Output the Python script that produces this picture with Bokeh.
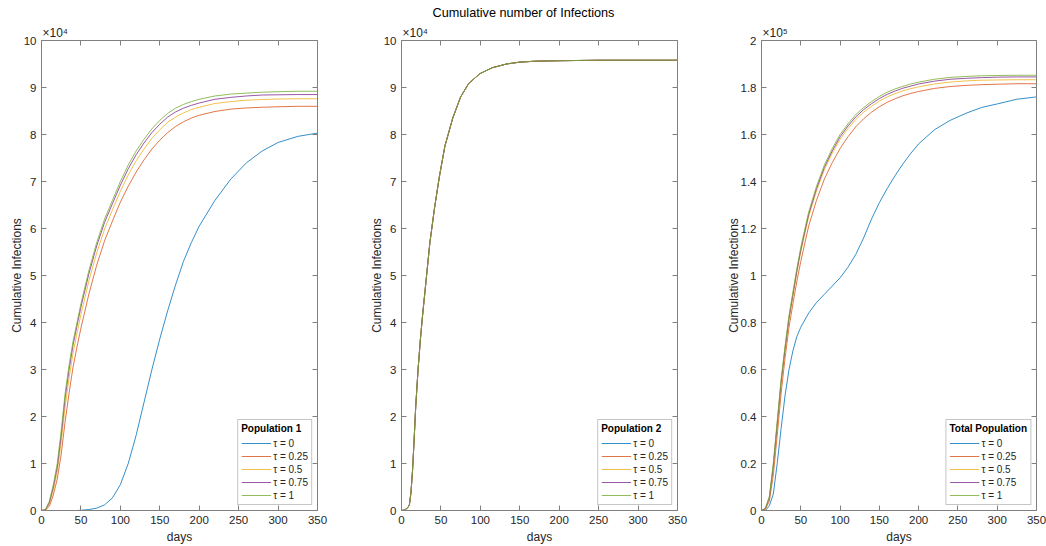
from bokeh.plotting import figure
from bokeh.models import (Range1d, FixedTicker, LinearAxis, Legend, LegendItem,
                          CustomJSTickFormatter, Title)
from bokeh.layouts import row
from bokeh.embed import file_html
from bokeh.resources import INLINE

# ---------------- data ----------------
TITLE = "Cumulative number of Infections"
TAU_LABELS = ["τ = 0", "τ = 0.25", "τ = 0.5", "τ = 0.75", "τ = 1"]
X_TICKS = [0, 50, 100, 150, 200, 250, 300, 350]
Y_TICKS_P12 = [0, 1, 2, 3, 4, 5, 6, 7, 8, 9, 10]
Y_TICKS_P3 = [0, 0.2, 0.4, 0.6, 0.8, 1.0, 1.2, 1.4, 1.6, 1.8, 2.0]

DAYS = [0, 5, 10, 15, 20, 25, 30, 35, 40, 45, 50, 60, 70, 80, 90, 100, 110, 120, 130,
        140, 150, 160, 170, 180, 190, 200, 220, 240, 260, 280, 300, 325, 350]

# Population 1 (x 1e4)
P1_TAU_0 = [0, 0, 0, 0, 0, 0, 0, 0, 0, 0, 0.005, 0.02, 0.05, 0.12, 0.27, 0.55, 1.0, 1.6, 2.3,
            3.0, 3.65, 4.25, 4.8, 5.3, 5.7, 6.05, 6.6, 7.05, 7.4, 7.65, 7.83, 7.96, 8.03]
P1_TAU_025 = [0, 0.008, 0.09, 0.33, 0.67, 1.2, 1.9, 2.5, 3.05, 3.48, 3.88, 4.6, 5.22, 5.74, 6.16,
              6.56, 6.9, 7.2, 7.46, 7.69, 7.88, 8.04, 8.17, 8.27, 8.35, 8.41, 8.49, 8.54, 8.565,
              8.58, 8.59, 8.6, 8.6]
P1_TAU_05 = [0, 0.012, 0.14, 0.43, 0.83, 1.45, 2.22, 2.82, 3.35, 3.77, 4.17, 4.88, 5.48, 5.99, 6.4,
             6.79, 7.14, 7.44, 7.69, 7.92, 8.1, 8.26, 8.37, 8.46, 8.53, 8.58, 8.66, 8.7, 8.73,
             8.745, 8.755, 8.76, 8.76]
P1_TAU_075 = [0, 0.015, 0.17, 0.5, 0.93, 1.6, 2.4, 3.0, 3.52, 3.93, 4.33, 5.03, 5.63, 6.13, 6.53,
              6.92, 7.27, 7.57, 7.82, 8.04, 8.22, 8.37, 8.48, 8.56, 8.62, 8.67, 8.75, 8.79, 8.82,
              8.84, 8.845, 8.85, 8.85]
P1_TAU_1 = [0, 0.02, 0.2, 0.55, 1.0, 1.7, 2.5, 3.1, 3.6, 4.0, 4.4, 5.1, 5.7, 6.2, 6.6,
            7.0, 7.35, 7.65, 7.9, 8.12, 8.3, 8.45, 8.56, 8.64, 8.7, 8.75, 8.82, 8.86, 8.88,
            8.9, 8.91, 8.92, 8.92]

# Population 2 (x 1e4) - all tau values coincide
DAYS_P2 = [0, 4, 8, 10, 12, 14, 16, 18, 21, 24, 27, 30, 36, 42, 48, 55, 65, 75, 85, 99,
           115, 133, 150, 170, 200, 250, 300, 350]
P2_ALL = [0, 0.01, 0.06, 0.12, 0.38, 0.85, 1.5, 2.2, 3.0, 3.65, 4.2, 4.7, 5.7, 6.45, 7.1, 7.75,
          8.35, 8.8, 9.08, 9.29, 9.42, 9.5, 9.54, 9.56, 9.57, 9.58, 9.58, 9.58]
P2_TAU_0 = P2_ALL
P2_TAU_025 = P2_ALL
P2_TAU_05 = P2_ALL
P2_TAU_075 = P2_ALL
P2_TAU_1 = P2_ALL

# Total population (x 1e5)
P3_TAU_0 = [0, 0.0, 0.02, 0.07, 0.2, 0.35, 0.49, 0.6, 0.68, 0.74, 0.78, 0.84, 0.885, 0.92, 0.955,
            0.99, 1.035, 1.09, 1.16, 1.24, 1.31, 1.37, 1.425, 1.475, 1.52, 1.56, 1.62, 1.66,
            1.69, 1.715, 1.73, 1.75, 1.76]
P3_TAU_025 = [0, 0.005, 0.04, 0.15, 0.32, 0.5, 0.65, 0.78, 0.88, 0.975, 1.06, 1.21, 1.32, 1.41,
              1.48, 1.54, 1.59, 1.633, 1.667, 1.695, 1.718, 1.737, 1.752, 1.765, 1.775, 1.783,
              1.796, 1.804, 1.809, 1.812, 1.814, 1.816, 1.816]
P3_TAU_05 = [0, 0.008, 0.05, 0.18, 0.36, 0.54, 0.68, 0.81, 0.91, 1.01, 1.1, 1.25, 1.36, 1.45,
             1.52, 1.58, 1.625, 1.664, 1.695, 1.72, 1.742, 1.76, 1.774, 1.786, 1.795, 1.803,
             1.815, 1.823, 1.828, 1.831, 1.832, 1.833, 1.833]
P3_TAU_075 = [0, 0.009, 0.055, 0.19, 0.37, 0.55, 0.69, 0.82, 0.92, 1.02, 1.11, 1.26, 1.37, 1.46,
              1.53, 1.59, 1.636, 1.675, 1.706, 1.731, 1.753, 1.771, 1.785, 1.797, 1.806, 1.815,
              1.827, 1.835, 1.839, 1.842, 1.844, 1.845, 1.845]
P3_TAU_1 = [0, 0.01, 0.06, 0.2, 0.38, 0.56, 0.7, 0.83, 0.93, 1.03, 1.12, 1.27, 1.38, 1.47, 1.54,
            1.6, 1.645, 1.685, 1.715, 1.74, 1.762, 1.78, 1.794, 1.805, 1.815, 1.823, 1.835,
            1.843, 1.847, 1.85, 1.851, 1.852, 1.852]

# ---------------- styling ----------------
FONT = "Liberation Sans"
COLORS = ["#0072BD", "#D95319", "#EDB120", "#7E2F8E", "#77AC30"]
AXC = "#808080"
TXT = "#262626"
EMPTY = "return ''"
TICK_FMT = "return String(Math.round(tick * 10) / 10)"
HEIGHT = 546


def style_axis(ax, show_labels=True, label_standoff=2):
    ax.axis_line_color = AXC
    ax.major_tick_line_color = AXC
    ax.major_tick_in = 5
    ax.major_tick_out = 0
    ax.minor_tick_line_color = None
    ax.major_label_text_font = FONT
    ax.major_label_text_color = TXT
    ax.axis_label_text_font = FONT
    ax.axis_label_text_font_size = "12px"
    ax.axis_label_text_font_style = "normal"
    ax.axis_label_text_color = TXT
    ax.axis_label_standoff = label_standoff
    if show_labels:
        ax.major_label_text_font_size = "11.5px"
        ax.major_label_standoff = 5
    else:
        ax.major_label_text_font_size = "0px"
        ax.major_label_standoff = 0


def panel(width, left, right, ymax, yticks, exp_text, days, series, legend_title, title=None):
    p = figure(width=width, height=HEIGHT, x_range=Range1d(0, 350), y_range=Range1d(0, ymax),
               output_backend="svg", toolbar_location=None, title=None,
               min_border_left=left, min_border_right=right, min_border_top=40,
               min_border_bottom=34, x_axis_label="days",
               y_axis_label="Cumulative Infections")
    p.outline_line_color = None
    p.xgrid.visible = False
    p.ygrid.visible = False
    p.background_fill_color = "white"
    p.border_fill_color = "white"

    p.xaxis.ticker = FixedTicker(ticks=X_TICKS)
    p.yaxis.ticker = FixedTicker(ticks=yticks)
    p.yaxis.formatter = CustomJSTickFormatter(code=TICK_FMT)
    style_axis(p.xaxis[0], label_standoff=3)
    style_axis(p.yaxis[0], label_standoff=-3)

    top = LinearAxis(ticker=FixedTicker(ticks=X_TICKS), formatter=CustomJSTickFormatter(code=EMPTY))
    style_axis(top, False)
    p.add_layout(top, "above")
    rax = LinearAxis(ticker=FixedTicker(ticks=yticks), formatter=CustomJSTickFormatter(code=EMPTY))
    style_axis(rax, False)
    p.add_layout(rax, "right")

    # exponent marker above the y axis
    p.add_layout(Title(text="×10" + exp_text, align="left", offset=1, text_font=FONT,
                       text_font_size="12px", text_font_style="normal",
                       text_color=TXT, standoff=1), "above")
    if title is not None:
        p.add_layout(Title(text=title, align="left", offset=31, text_font=FONT,
                           text_font_size="12.7px", text_font_style="normal",
                           text_color="#000000", standoff=7), "above")

    rends = []
    for s, c in zip(series, COLORS):
        rends.append(p.line(days, s, line_color=c, line_width=0.8))

    leg = Legend(items=[LegendItem(label=l, renderers=[r]) for l, r in zip(TAU_LABELS, rends)],
                 location="bottom_right", title=legend_title)
    leg.title_text_font = FONT
    leg.title_text_font_style = "bold"
    leg.title_text_font_size = "10px"
    leg.title_text_color = "#000000"
    leg.title_standoff = 3
    leg.label_text_font = FONT
    leg.label_text_font_size = "10px"
    leg.label_text_color = TXT
    leg.label_height = 12
    leg.glyph_height = 12
    leg.glyph_width = 30
    leg.label_standoff = 2
    leg.spacing = 1
    leg.padding = 3
    leg.margin = 5
    leg.border_line_color = "#8c8c8c"
    leg.border_line_width = 1
    leg.background_fill_color = "white"
    leg.background_fill_alpha = 1
    p.add_layout(leg)
    return p


p1 = panel(362, 41, 45, 10, Y_TICKS_P12, "⁴", DAYS,
           [P1_TAU_0, P1_TAU_025, P1_TAU_05, P1_TAU_075, P1_TAU_1], "Population 1")
p2 = panel(358, 39, 43, 10, Y_TICKS_P12, "⁴", DAYS_P2,
           [P2_TAU_0, P2_TAU_025, P2_TAU_05, P2_TAU_075, P2_TAU_1], "Population 2", title=TITLE)
p3 = panel(326, 41, 10, 2, Y_TICKS_P3, "⁵", DAYS,
           [P3_TAU_0, P3_TAU_025, P3_TAU_05, P3_TAU_075, P3_TAU_1], "Total Population")

layout = row(p1, p2, p3)
open("out.html", "w").write(file_html(layout, INLINE))
